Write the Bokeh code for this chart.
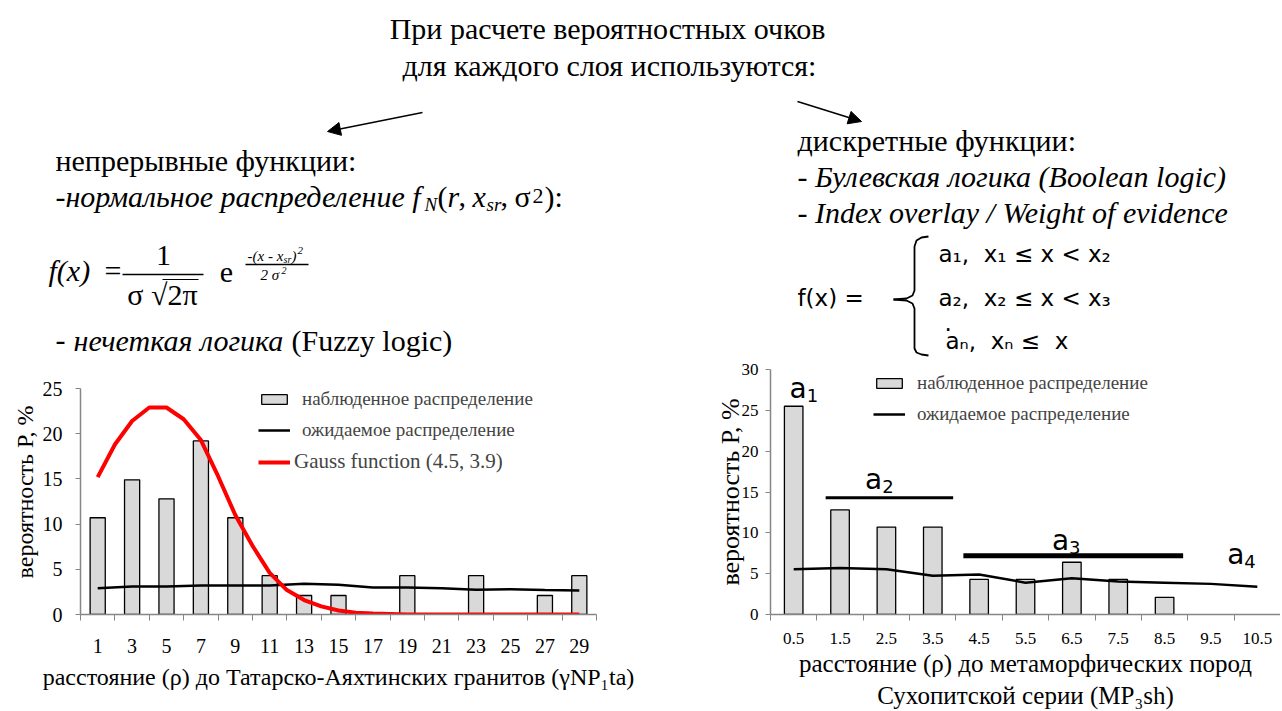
from bokeh.plotting import figure
from bokeh.models import Range1d, FixedTicker, Legend, LegendItem, Arrow, NormalHead, ColumnDataSource
from bokeh.layouts import column, row
from bokeh.embed import file_html
from bokeh.resources import INLINE
from bokeh.core.properties import value

SERIF = "Liberation Serif"
HAND = "DejaVu Sans"
AXIS_GREY = "#868686"
BAR_FILL = "#d9d9d9"
NB = "\u00a0"

# ---------------- data: left chart ----------------
left_categories = ["1", "3", "5", "7", "9", "11", "13", "15", "17", "19", "21", "23", "25", "27", "29"]
left_observed = [10.7, 14.9, 12.8, 19.2, 10.7, 4.3, 2.1, 2.1, 0.0, 4.3, 0.0, 4.3, 0.0, 2.1, 4.3]
left_expected = [2.9, 3.1, 3.1, 3.2, 3.2, 3.2, 3.4, 3.3, 3.0, 3.0, 2.9, 2.75, 2.8, 2.7, 2.65]
gauss_positions = [0, 0.5, 1, 1.5, 2, 2.5, 3, 3.5, 4, 4.5, 5, 5.5, 6, 6.5, 7, 7.5,
                   8, 8.5, 9, 9.5, 10, 10.5, 11, 11.5, 12, 12.5, 13, 13.5, 14]
gauss_values = [15.2, 18.8, 21.4, 22.9, 22.9, 21.6, 19.3, 15.3, 11.0, 7.6, 4.6, 2.7, 1.6, 0.9, 0.45, 0.2,
                0.1, 0.05, 0, 0, 0, 0, 0, 0, 0, 0, 0, 0, 0]
left_yticks = [0, 5, 10, 15, 20, 25]
left_ymax = 25

# ---------------- data: right chart ----------------
right_categories = ["0.5", "1.5", "2.5", "3.5", "4.5", "5.5", "6.5", "7.5", "8.5", "9.5", "10.5"]
right_observed = [25.5, 12.8, 10.7, 10.7, 4.3, 4.3, 6.4, 4.3, 2.1, 0.0, 0.0]
right_expected = [5.55, 5.7, 5.55, 4.75, 4.9, 3.9, 4.45, 4.05, 3.9, 3.75, 3.4]
right_yticks = [0, 5, 10, 15, 20, 25, 30]
right_ymax = 30
step_letter = ["a", "a", "a", "a"]
step_index = ["1", "2", "3", "4"]
step_label_x = [0.28, 1.91, 5.94, 9.72]
step_label_y = [27.7, 16.5, 9.1, 7.3]
step_x0 = [0.69, 3.66]
step_x1 = [3.44, 8.40]
step_y = [14.3, 7.2]
step_width = [3, 5]

# layout (page pixels)
FRAME_TOP, FRAME_BOTTOM, PAGE_BOTTOM, SPLIT = 369, 614, 711, 357
LEFT_AXIS_TOP = 388  # pixel where the left chart's "25" sits


def style_axes(p, cats, tick_font, ylabel, ylabel_font, xlabel, xlabel_font, yticks,
               x_standoff, xlabel_standoff, y_standoff, ylabel_standoff):
    n = len(cats)
    p.xaxis.ticker = FixedTicker(ticks=list(range(n)), minor_ticks=[i - 0.5 for i in range(n + 1)])
    p.xaxis.major_label_overrides = {i: c for i, c in enumerate(cats)}
    p.xaxis.major_tick_line_color = None
    p.xaxis.major_tick_out = 0
    p.xaxis.major_tick_in = 0
    p.xaxis.minor_tick_line_color = AXIS_GREY
    p.xaxis.minor_tick_out = 6
    p.xaxis.minor_tick_in = 0
    p.xaxis.major_label_standoff = x_standoff
    p.xaxis.axis_label = xlabel
    p.xaxis.axis_label_standoff = xlabel_standoff
    p.xaxis.axis_label_text_font_size = xlabel_font
    p.yaxis.ticker = FixedTicker(ticks=yticks, minor_ticks=[])
    p.yaxis.major_tick_out = 5
    p.yaxis.major_tick_in = 0
    p.yaxis.major_tick_line_color = AXIS_GREY
    p.yaxis.minor_tick_line_color = None
    p.yaxis.major_label_standoff = y_standoff
    p.yaxis.axis_label = ylabel
    p.yaxis.axis_label_standoff = ylabel_standoff
    p.yaxis.axis_label_text_font_size = ylabel_font
    p.yaxis.bounds = (yticks[0], yticks[-1])
    for ax in (p.xaxis, p.yaxis):
        ax.axis_line_color = AXIS_GREY
        ax.axis_line_width = 1.5
        ax.major_label_text_font = SERIF
        ax.major_label_text_font_size = tick_font
        ax.major_label_text_color = "black"
        ax.axis_label_text_font = SERIF
        ax.axis_label_text_font_style = "normal"
        ax.axis_label_text_color = "black"
    p.grid.visible = False
    p.outline_line_color = None


def make_legend(items, loc, font, standoff=12):
    return Legend(items=items, location=loc, padding=0, margin=0, spacing=7,
                  label_height=24, glyph_height=12, glyph_width=32, label_standoff=standoff,
                  label_text_font=SERIF, label_text_font_size=font,
                  border_line_color=None, background_fill_alpha=0)


chart_h = PAGE_BOTTOM - SPLIT
frame_h = FRAME_BOTTOM - FRAME_TOP

# ---------------- left chart ----------------
left_top_value = left_ymax * frame_h / (FRAME_BOTTOM - LEFT_AXIS_TOP)
lp = figure(width=690, height=chart_h, x_range=Range1d(-0.5, len(left_categories) - 0.5),
            y_range=Range1d(0, left_top_value), output_backend="svg", toolbar_location=None,
            min_border_left=80, min_border_right=94, min_border_top=FRAME_TOP - SPLIT,
            min_border_bottom=PAGE_BOTTOM - FRAME_BOTTOM)
lsrc = ColumnDataSource(dict(x=[i for i, v in enumerate(left_observed) if v > 0],
                             top=[v for v in left_observed if v > 0]))
lbars = lp.vbar(x="x", top="top", width=0.44, source=lsrc, fill_color=BAR_FILL,
                line_color="black", line_width=1.3)
lline = lp.line(list(range(len(left_expected))), left_expected, line_color="black", line_width=2.5)
gline = lp.line(gauss_positions, gauss_values, line_color="#ff0000", line_width=4)
style_axes(lp, left_categories, "20px", "вероятность Р, %", "24px",
           "расстояние (ρ) до Татарско-Аяхтинских гранитов (γNP₁ta)", "24px",
           left_yticks, 18, 8, 13, 2)
lp.add_layout(make_legend([LegendItem(label="наблюденное распределение", renderers=[lbars]),
                           LegendItem(label="ожидаемое распределение", renderers=[lline])],
                          (178, 172), "19px"))
lp.add_layout(make_legend([LegendItem(label="Gauss function (4.5, 3.9)", renderers=[gline])],
                          (178, 140), "21px", standoff=4))

# ---------------- right chart ----------------
rp = figure(width=590, height=chart_h, x_range=Range1d(-0.5, len(right_categories) - 0.5),
            y_range=Range1d(0, right_ymax), output_backend="svg", toolbar_location=None,
            min_border_left=80, min_border_right=0, min_border_top=FRAME_TOP - SPLIT,
            min_border_bottom=PAGE_BOTTOM - FRAME_BOTTOM)
rsrc = ColumnDataSource(dict(x=[i for i, v in enumerate(right_observed) if v > 0],
                             top=[v for v in right_observed if v > 0]))
rbars = rp.vbar(x="x", top="top", width=0.4, source=rsrc, fill_color=BAR_FILL,
                line_color="black", line_width=1.3)
rline = rp.line(list(range(len(right_expected))), right_expected, line_color="black", line_width=2.5)
rp.segment(x0=step_x0, y0=step_y, x1=step_x1, y1=step_y, line_color="black", line_width=step_width)
rp.text(x=step_label_x, y=step_label_y, text=step_letter, text_font=value(HAND),
        text_font_size="28px", text_align="right", text_baseline="middle", text_color="black")
rp.text(x=step_label_x, y=step_label_y, text=step_index, text_font=value(HAND),
        text_font_size="18px", text_align="left", text_baseline="middle", text_color="black",
        x_offset=0, y_offset=7)
style_axes(rp, right_categories, "17px", "вероятность Р, %", "26px",
           "расстояние (ρ) до метаморфических пород\nСухопитской серии (MP₃sh)", "25px",
           right_yticks, 12, 3, 7, -6)
rp.add_layout(make_legend([LegendItem(label="наблюденное распределение", renderers=[rbars]),
                           LegendItem(label="ожидаемое распределение", renderers=[rline])],
                          (103, 188), "19px"))

# ---------------- top slide text ----------------
tp = figure(width=1280, height=SPLIT, x_range=Range1d(0, 1280), y_range=Range1d(SPLIT, 0),
            output_backend="svg", toolbar_location=None, x_axis_type=None, y_axis_type=None,
            min_border=0, min_border_left=0, min_border_right=0, min_border_top=0, min_border_bottom=0)
tp.grid.visible = False
tp.outline_line_color = None

segments = [
    # x, y, text, size, style, font, align
    (607, 28, "При расчете вероятностных очков", 30, "normal", SERIF, "center"),
    (609, 65, "для каждого слоя используются:", 30, "normal", SERIF, "center"),
    (55, 160, "непрерывные функции:", 30, "normal", SERIF, "left"),
    (55, 196, "-нормальное распределение f", 30, "italic", SERIF, "left"),
    (424, 204, "N", 19, "italic", SERIF, "left"),
    (437, 196, "(", 30, "normal", SERIF, "left"),
    (447, 196, "r", 30, "italic", SERIF, "left"),
    (458, 196, ",", 30, "normal", SERIF, "left"),
    (472, 196, "x", 30, "italic", SERIF, "left"),
    (486, 204, "sr", 19, "italic", SERIF, "left"),
    (500, 196, ",", 30, "normal", SERIF, "left"),
    (514, 196, "σ", 30, "normal", SERIF, "left"),
    (532, 195, "2", 22, "normal", SERIF, "left"),
    (544, 196, "):", 30, "normal", SERIF, "left"),
    (48, 270, "f(x)", 30, "italic", SERIF, "left"),
    (104, 270, "=", 30, "normal", SERIF, "left"),
    (163, 255, "1", 30, "normal", SERIF, "center"),
    (162, 294, "σ √2π", 30, "normal", SERIF, "center"),
    (226, 272, "e", 30, "normal", SERIF, "center"),
    (247, 255, "-(x - x", 15, "italic", SERIF, "left"),
    (283, 259, "sr", 10, "italic", SERIF, "left"),
    (291, 255, ")", 15, "italic", SERIF, "left"),
    (297, 250, "2", 11, "italic", SERIF, "left"),
    (260, 274, "2 σ", 15, "italic", SERIF, "left"),
    (281, 270, "2", 10, "italic", SERIF, "left"),
    (55, 340, "-", 30, "normal", SERIF, "left"),
    (73, 340, "нечеткая логика", 30, "italic", SERIF, "left"),
    (291, 340, "(Fuzzy logic)", 30, "normal", SERIF, "left"),
    (797, 140, "дискретные функции:", 30, "normal", SERIF, "left"),
    (797, 176, "- Булевская логика (Boolean logic)", 30, "italic", SERIF, "left"),
    (797, 212, "- Index overlay / Weight of evidence", 30, "italic", SERIF, "left"),
    (797, 297, "f(x) =", 23, "normal", HAND, "left"),
    (938, 253, f"a₁,{NB}{NB}x₁ ≤ x < x₂", 23, "normal", HAND, "left"),
    (938, 297, f"a₂,{NB}{NB}x₂ ≤ x < x₃", 23, "normal", HAND, "left"),
    (944, 322, ".", 23, "normal", HAND, "left"),
    (945, 340, f"aₙ,{NB}{NB}xₙ ≤{NB}{NB}x", 23, "normal", HAND, "left"),
]
for x, y, t, s, st, f, al in segments:
    tp.text(x=[x], y=[y], text=[t], text_font=value(f), text_font_size=f"{s}px",
            text_font_style=st, text_align=al, text_baseline="middle", text_color="black")

# fraction bars
tp.segment(x0=[122, 245], y0=[274, 264], x1=[203, 308], y1=[274, 264], line_color="black", line_width=1.5)
# radical overline
tp.segment(x0=[162], y0=[279], x1=[198], y1=[279], line_color="black", line_width=1.2)

# brace
tp.line([928, 921, 916, 914, 914, 912, 906, 893], [236, 237, 240, 246, 290, 295, 298, 299],
        line_color="black", line_width=1.8)
tp.line([893, 906, 912, 914, 914, 916, 921, 928], [299, 300, 303, 308, 348, 352, 354, 355],
        line_color="black", line_width=1.8)

# arrows
for xs, ys, xe, ye in [(422, 112, 327, 131), (797, 101, 861, 121)]:
    tp.add_layout(Arrow(x_start=xs, y_start=ys, x_end=xe, y_end=ye, line_width=1.5, line_color="black",
                        end=NormalHead(size=13, fill_color="black", line_color="black")))

layout = column(tp, row(lp, rp))
open("out.html", "w").write(file_html(layout, INLINE))
